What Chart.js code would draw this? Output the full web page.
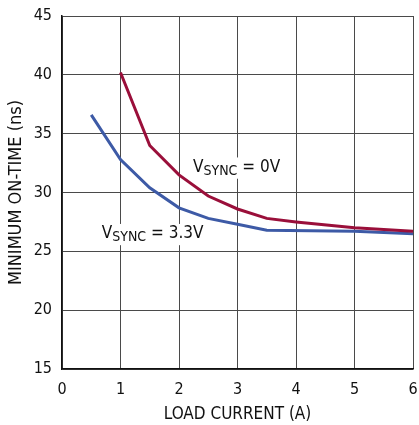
<!DOCTYPE html>
<html>
<head>
<meta charset="utf-8">
<script src="https://cdn.jsdelivr.net/npm/chart.js@4"></script>
<style>
  html, body { margin: 0; padding: 0; background: #fff; }
  #wrap { width: 419px; height: 425px; }
</style>
</head>
<body>
<div id="wrap"><canvas id="thechart" width="419" height="425"></canvas></div>
<script>
// values
var loadCurrent0V = [1, 1.5, 2, 2.5, 3, 3.5, 4, 5, 6];
var onTime0V = [40.2, 34.0, 31.5, 29.7, 28.6, 27.8, 27.5, 27.0, 26.7];
var loadCurrent33V = [0.5, 1, 1.5, 2, 2.5, 3, 3.5, 5, 6];
var onTime33V = [36.6, 32.8, 30.4, 28.7, 27.8, 27.3, 26.8, 26.7, 26.5];
var xTicks = [0, 1, 2, 3, 4, 5, 6];
var yTicks = [15, 20, 25, 30, 35, 40, 45];

var theFont = "'Liberation Sans Narrow', 'DejaVu Sans Condensed', sans-serif";
var redLine = '#9a0f3a';
var blueLine = '#3d5aa6';

function toPoints(xs, ys) {
  var pts = [];
  for (var i = 0; i < xs.length; i++) {
    pts.push({ x: xs[i], y: ys[i] });
  }
  return pts;
}

// curve labels with subscript, placed in data coordinates
var curveLabels = [
  { x: 2.24, y: 31.75, sub: 'SYNC', tail: ' = 0V', size: 17 },
  { x: 0.68, y: 26.1, sub: 'SYNC', tail: ' = 3.3V', size: 17 }
];

var labelPlugin = {
  id: 'curveLabels',
  afterDatasetsDraw: function (chart) {
    var ctx = chart.ctx;
    var xs = chart.scales.x;
    var ys = chart.scales.y;
    ctx.save();
    ctx.textBaseline = 'alphabetic';
    for (var i = 0; i < curveLabels.length; i++) {
      var lb = curveLabels[i];
      var px = xs.getPixelForValue(lb.x);
      var py = ys.getPixelForValue(lb.y);
      var bigFont = lb.size + 'px ' + theFont;
      var subFont = Math.round(lb.size * 0.8) + 'px ' + theFont;
      ctx.font = bigFont;
      var wV = ctx.measureText('V').width;
      var wTail = ctx.measureText(lb.tail).width;
      ctx.font = subFont;
      var wSub = ctx.measureText(lb.sub).width;
      var total = wV + wSub + wTail;
      ctx.fillStyle = '#fff';
      ctx.fillRect(px - 3, py - lb.size * 0.85, total + 6, lb.size * 1.25);
      ctx.fillStyle = '#111';
      ctx.font = bigFont;
      ctx.fillText('V', px, py);
      ctx.font = subFont;
      ctx.fillText(lb.sub, px + wV, py + 3);
      ctx.font = bigFont;
      ctx.fillText(lb.tail, px + wV + wSub, py);
    }
    ctx.restore();
  }
};

Chart.defaults.font.family = theFont;
Chart.defaults.color = '#111';

var onTimeChart = new Chart(document.getElementById('thechart').getContext('2d'), {
  type: 'line',
  data: {
    datasets: [
      {
        label: 'VSYNC = 0V',
        data: toPoints(loadCurrent0V, onTime0V),
        borderColor: redLine,
        borderWidth: 3,
        pointRadius: 0,
        tension: 0,
        fill: false
      },
      {
        label: 'VSYNC = 3.3V',
        data: toPoints(loadCurrent33V, onTime33V),
        borderColor: blueLine,
        borderWidth: 3,
        pointRadius: 0,
        tension: 0,
        fill: false
      }
    ]
  },
  options: {
    responsive: false,
    animation: false,
    layout: { padding: { top: 16, right: 6, left: 0, bottom: 0 } },
    plugins: {
      legend: { display: false },
      tooltip: { enabled: false }
    },
    scales: {
      x: {
        type: 'linear',
        min: 0,
        max: 6,
        afterBuildTicks: function (scale) {
          scale.ticks = xTicks.map(function (v) { return { value: v }; });
        },
        afterFit: function (scale) {
          scale.height = 56;
          scale.paddingLeft = 0;
          scale.paddingRight = 0;
        },
        grid: { color: '#4a4a4a', lineWidth: 1, drawTicks: false },
        border: { color: '#111', width: 1.5 },
        ticks: { padding: 11, font: { size: 16 }, maxRotation: 0 },
        title: {
          display: true,
          text: 'LOAD CURRENT (A)',
          font: { size: 17 },
          padding: { top: 3, bottom: 0 }
        }
      },
      y: {
        min: 15,
        max: 45,
        afterBuildTicks: function (scale) {
          scale.ticks = yTicks.map(function (v) { return { value: v }; });
        },
        afterFit: function (scale) {
          scale.width = 62;
          scale.paddingTop = 0;
          scale.paddingBottom = 0;
        },
        grid: { color: '#4a4a4a', lineWidth: 1, drawTicks: false },
        border: { color: '#111', width: 1.5 },
        ticks: { padding: 10, font: { size: 16 } },
        title: {
          display: true,
          text: 'MINIMUM ON-TIME (ns)',
          font: { size: 18 },
          padding: { top: 6, bottom: 0 }
        }
      }
    }
  },
  plugins: [labelPlugin]
});
</script>
</body>
</html>
